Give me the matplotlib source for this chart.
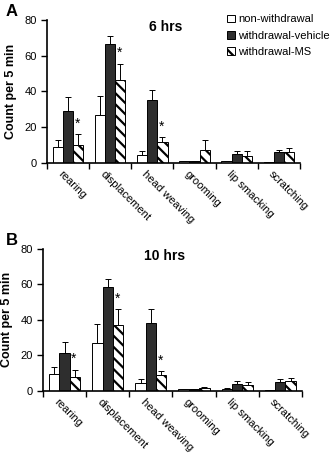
import numpy as np
import matplotlib
matplotlib.use("Agg")
import matplotlib.pyplot as plt

plt.rcParams["font.family"] = ["Liberation Sans", "DejaVu Sans"]
plt.rcParams["hatch.linewidth"] = 1.6

behaviours = ["rearing", "displacement", "head weaving", "grooming", "lip smacking", "scratching"]
groups = ["non-withdrawal", "withdrawal-vehicle", "withdrawal-MS"]

# panel A, 6 hrs (mean, error bar length)
a_non = [9, 27, 4.5, 1, 1, 0.3]
a_non_err = [4, 10.5, 2, 0.2, 0.3, 0]
a_veh = [29, 66.5, 35, 1, 5, 6]
a_veh_err = [8, 4.5, 6, 0.3, 1.5, 1.5]
a_ms = [10, 46.5, 11.5, 7.5, 4, 6]
a_ms_err = [6, 9, 3, 5.5, 2.5, 2.5]
a_star = [True, True, True, False, False, False]

# panel B, 10 hrs
b_non = [9.5, 27, 4.5, 1, 1, 0.3]
b_non_err = [4, 10.5, 2, 0.2, 0.5, 0]
b_veh = [21.5, 58.5, 38, 0.8, 4, 5]
b_veh_err = [6, 4.5, 8, 0.3, 1.5, 1.5]
b_ms = [8, 37, 9, 1.5, 3.5, 5.5]
b_ms_err = [4, 9, 2, 0.7, 1.5, 1.5]
b_star = [True, True, True, False, False, False]

styles = [
    dict(facecolor="white", edgecolor="black", hatch=None),
    dict(facecolor="#2e2e2e", edgecolor="black", hatch=None),
    dict(facecolor="white", edgecolor="black", hatch="\\\\\\"),
]


def draw_panel(ax, series, errs, stars, title):
    x = np.arange(len(behaviours))
    w = 0.24
    for k, (vals, err, st) in enumerate(zip(series, errs, styles)):
        pos = x + (k - 1) * w
        ax.bar(pos, vals, w, linewidth=0.7, label=groups[k], zorder=2, **st)
        ax.errorbar(pos, vals, yerr=[np.zeros(len(vals)), err], fmt="none",
                    ecolor="black", elinewidth=0.7, capsize=2.5, capthick=0.7, zorder=1)
    top = np.array(series[2]) + np.array(errs[2])
    for i, s in enumerate(stars):
        if s:
            ax.text(x[i] + 0.9 * w, top[i] + 6, "*", ha="center", va="center", fontsize=10)
    ax.set_xlim(-0.5, len(behaviours) - 0.5)
    ax.set_ylim(0, 80)
    ax.set_yticks([0, 20, 40, 60, 80])
    ax.set_xticks(np.arange(len(behaviours) + 1) - 0.5)
    ax.set_xticklabels([])
    ax.set_xticks(x - 0.12, minor=True)
    ax.set_xticklabels(behaviours, minor=True, rotation=-45, ha="left", va="top",
                       rotation_mode="anchor", fontsize=8)
    ax.tick_params(axis="x", which="minor", length=0, pad=4)
    ax.tick_params(axis="both", which="major", length=4, width=1, labelsize=8, direction="out")
    for side in ["top", "right"]:
        ax.spines[side].set_visible(False)
    for side in ["left", "bottom"]:
        ax.spines[side].set_linewidth(1.2)
    ax.set_ylabel("Count per 5 min", fontsize=9, fontweight="bold", labelpad=5)
    ax.text(0.47, 0.95, title, transform=ax.transAxes, ha="center", va="center",
            fontsize=10, fontweight="bold")


fig = plt.figure(figsize=(3.31, 4.54), dpi=100)
ax_a = fig.add_axes([0.142, 0.641, 0.764, 0.315])
ax_b = fig.add_axes([0.130, 0.139, 0.782, 0.313])

draw_panel(ax_a, [a_non, a_veh, a_ms], [a_non_err, a_veh_err, a_ms_err], a_star, "6 hrs")
draw_panel(ax_b, [b_non, b_veh, b_ms], [b_non_err, b_veh_err, b_ms_err], b_star, "10 hrs")

ax_a.legend(loc="upper left", bbox_to_anchor=(0.695, 1.07), frameon=False, fontsize=8,
            handlelength=0.7, handleheight=0.7, handletextpad=0.3, labelspacing=0.55,
            borderaxespad=0)

fig.text(0.018, 0.975, "A", fontsize=12, fontweight="bold", va="center")
fig.text(0.018, 0.47, "B", fontsize=12, fontweight="bold", va="center")

fig.savefig("out.png", dpi=100)
